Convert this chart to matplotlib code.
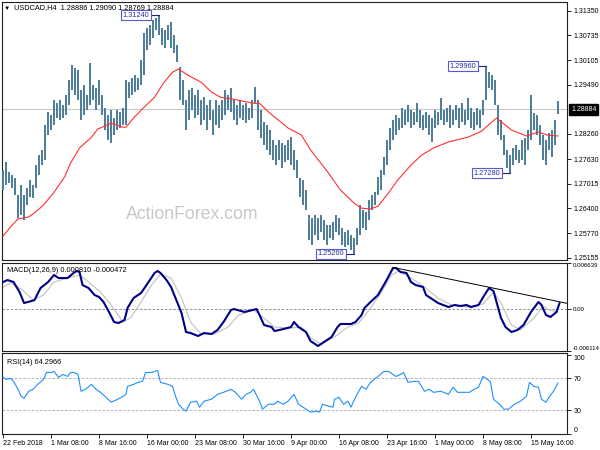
import numpy as np
import matplotlib
matplotlib.use('Agg')
import matplotlib.pyplot as plt
from matplotlib.transforms import blended_transform_factory as btf

# ---------------- data ----------------
symbol = 'USDCAD,H4'
ohlc_last = [1.28886, 1.29090, 1.28769, 1.28884]

# bar highs / lows (one bar per 2 H4 periods)
high = [1.2735, 1.2755, 1.2730, 1.2723, 1.2715, 1.2673, 1.2698, 1.2673, 1.2690, 1.2710,
        1.2698, 1.2748, 1.2773, 1.2786, 1.2848, 1.2881, 1.2873, 1.2911, 1.2903, 1.2911,
        1.2898, 1.2924, 1.2961, 1.2999, 1.2991, 1.2986, 1.2936, 1.2949, 1.2924, 1.3004,
        1.2949, 1.2941, 1.2961, 1.2924, 1.2891, 1.2873, 1.2886, 1.2866, 1.2886, 1.2881,
        1.2891, 1.2961, 1.2956, 1.2966, 1.2974, 1.2966, 1.3011, 1.3079, 1.3092, 1.3099,
        1.3111, 1.3116, 1.3124, 1.3092, 1.3087, 1.3099, 1.3107, 1.3074, 1.3049, 1.2994,
        1.2961, 1.2911, 1.2936, 1.2941, 1.2924, 1.2936, 1.2911, 1.2918, 1.2898, 1.2911,
        1.2886, 1.2911, 1.2898, 1.2911, 1.2936, 1.2924, 1.2941, 1.2911, 1.2898, 1.2911,
        1.2898, 1.2903, 1.2891, 1.2911, 1.2943, 1.2911, 1.2886, 1.2856, 1.2848, 1.2836,
        1.2811, 1.2798, 1.2811, 1.2803, 1.2798, 1.2811, 1.2818, 1.2786, 1.2760, 1.2715,
        1.2710, 1.2685, 1.2623, 1.2615, 1.2623, 1.2615, 1.2623, 1.2610, 1.2598, 1.2598,
        1.2605, 1.2623, 1.2615, 1.2590, 1.2580, 1.2585, 1.2572, 1.2565, 1.2590, 1.2648,
        1.2635, 1.2630, 1.2660, 1.2673, 1.2680, 1.2718, 1.2735, 1.2768, 1.2811, 1.2841,
        1.2861, 1.2873, 1.2866, 1.2891, 1.2886, 1.2898, 1.2886, 1.2881, 1.2903, 1.2886,
        1.2873, 1.2881, 1.2873, 1.2866, 1.2886, 1.2881, 1.2916, 1.2886, 1.2891, 1.2898,
        1.2886, 1.2898, 1.2891, 1.2903, 1.2886, 1.2916, 1.2891, 1.2881, 1.2891, 1.2886,
        1.2911, 1.2996, 1.2981, 1.2974, 1.2961, 1.2898, 1.2861, 1.2823, 1.2786, 1.2773,
        1.2791, 1.2798, 1.2786, 1.2811, 1.2816, 1.2836, 1.2924, 1.2878, 1.2873, 1.2848,
        1.2823, 1.2811, 1.2828, 1.2836, 1.2861, 1.2909]
low = [1.2685, 1.2698, 1.2703, 1.2690, 1.2673, 1.2615, 1.2623, 1.2610, 1.2648, 1.2668,
       1.2665, 1.2690, 1.2723, 1.2748, 1.2760, 1.2823, 1.2836, 1.2848, 1.2866, 1.2861,
       1.2866, 1.2873, 1.2898, 1.2936, 1.2924, 1.2911, 1.2861, 1.2873, 1.2886, 1.2898,
       1.2911, 1.2886, 1.2898, 1.2873, 1.2836, 1.2811, 1.2803, 1.2823, 1.2836, 1.2841,
       1.2848, 1.2848, 1.2916, 1.2924, 1.2931, 1.2936, 1.2949, 1.2974, 1.3036, 1.3049,
       1.3067, 1.3087, 1.3074, 1.3049, 1.3042, 1.3061, 1.3042, 1.3029, 1.3006, 1.2911,
       1.2898, 1.2836, 1.2861, 1.2886, 1.2866, 1.2873, 1.2848, 1.2861, 1.2836, 1.2861,
       1.2823, 1.2848, 1.2841, 1.2861, 1.2873, 1.2886, 1.2881, 1.2861, 1.2848, 1.2866,
       1.2861, 1.2853, 1.2861, 1.2866, 1.2903, 1.2836, 1.2816, 1.2798, 1.2786, 1.2773,
       1.2760, 1.2748, 1.2760, 1.2740, 1.2755, 1.2760, 1.2748, 1.2735, 1.2715, 1.2668,
       1.2648, 1.2635, 1.2560, 1.2547, 1.2572, 1.2560, 1.2580, 1.2560, 1.2547, 1.2565,
       1.2560, 1.2580, 1.2572, 1.2547, 1.2542, 1.2547, 1.2535, 1.2526, 1.2547, 1.2572,
       1.2590, 1.2585, 1.2610, 1.2635, 1.2648, 1.2673, 1.2685, 1.2723, 1.2748, 1.2786,
       1.2811, 1.2823, 1.2836, 1.2841, 1.2848, 1.2856, 1.2841, 1.2848, 1.2856, 1.2841,
       1.2836, 1.2841, 1.2823, 1.2806, 1.2841, 1.2848, 1.2861, 1.2848, 1.2856, 1.2841,
       1.2848, 1.2861, 1.2841, 1.2856, 1.2848, 1.2861, 1.2841, 1.2836, 1.2848, 1.2841,
       1.2873, 1.2911, 1.2941, 1.2936, 1.2898, 1.2823, 1.2811, 1.2773, 1.2740, 1.2728,
       1.2748, 1.2760, 1.2753, 1.2760, 1.2748, 1.2786, 1.2811, 1.2836, 1.2823, 1.2798,
       1.2760, 1.2748, 1.2786, 1.2768, 1.2798, 1.2877]

# moving average (bar index, value)
ma_bar = [0, 5, 10, 17, 21, 27, 34, 41, 45, 51, 59, 63, 72, 80, 82, 87, 94, 101, 107, 113,
          117, 123, 132, 139, 145, 154, 167, 171, 177, 190, 199, 205, 217, 225, 234, 239, 245,
          250, 257, 263, 272, 279, 287, 297, 310, 319, 329, 339, 349, 357, 363, 370]
ma_val = [1.2570, 1.2593, 1.2613, 1.2618, 1.2628, 1.2648, 1.2680, 1.2718, 1.2753, 1.2791,
          1.2818, 1.2838, 1.2853, 1.2843, 1.2843, 1.2866, 1.2893, 1.2918, 1.2954, 1.2981,
          1.2989, 1.2974, 1.2956, 1.2931, 1.2918, 1.2913, 1.2903, 1.2903, 1.2881, 1.2841,
          1.2823, 1.2786, 1.2728, 1.2685, 1.2653, 1.2640, 1.2638, 1.2645, 1.2678, 1.2710,
          1.2748, 1.2773, 1.2791, 1.2806, 1.2818, 1.2833, 1.2866, 1.2836, 1.2821, 1.2831,
          1.2823, 1.2821]

# marked highs / lows
ann_bar = [104, 234, 322, 338]
ann_val = [1.31240, 1.25260, 1.29960, 1.27280]

price_ticks = [1.31350, 1.30735, 1.30105, 1.29490, 1.28260, 1.27630,
               1.27015, 1.26400, 1.25770, 1.25155]

# MACD (12,26,9)
macd_bar = [0, 3, 7, 11, 14, 19, 21, 25, 30, 34, 37, 43, 47, 49, 51, 53, 57, 61, 64, 67,
            71, 74, 77, 81, 83, 87, 92, 97, 101, 103, 105, 109, 112, 115, 119, 122, 125, 130, 134, 139,
            143, 147, 152, 154, 161, 169, 171, 174, 179, 181, 187, 192, 194, 197, 202, 205, 210, 214, 219, 223,
            225, 232, 235, 239, 241, 245, 250, 255, 260, 262, 265, 269, 272, 275, 280, 282, 287, 290, 297, 301,
            305, 309, 312, 317, 321, 324, 327, 329, 332, 335, 339, 343, 347, 352, 357, 359, 362, 365, 369, 371]
macd = [0.00388, 0.00417, 0.00388, 0.00243, 0.00084, 0.00113, 0.00128, 0.00301, 0.00388, 0.00490,
        0.00446, 0.00446, 0.00519, 0.00548, 0.00533, 0.00345, 0.00301, 0.00200, 0.00171, 0.00099,
        -0.00061, -0.00191, -0.00206, -0.00162, 0.00012, 0.00156, 0.00229, 0.00388, 0.00519, 0.00548,
        0.00519, 0.00417, 0.00316, 0.00156, -0.00061, -0.00336, -0.00351, -0.00394, -0.00351, -0.00365,
        -0.00307, -0.00191, -0.00017, -0.00003, -0.00046, -0.00003, -0.00090, -0.00235, -0.00264, -0.00322,
        -0.00293, -0.00264, -0.00191, -0.00264, -0.00336, -0.00467, -0.00539, -0.00481, -0.00409, -0.00264,
        -0.00220, -0.00220, -0.00191, -0.00090, 0.00012, 0.00099, 0.00200, 0.00388, 0.00591, 0.00591,
        0.00533, 0.00519, 0.00388, 0.00345, 0.00316, 0.00200, 0.00128, 0.00084, 0.00026, 0.00055,
        0.00041, 0.00055, 0.00026, 0.00055, 0.00200, 0.00301, 0.00258, 0.00099, -0.00133, -0.00264,
        -0.00336, -0.00307, -0.00235, -0.00046, 0.00099, 0.00055, -0.00090, -0.00119, -0.00046, 0.000810]
sig_bar = [0, 5, 13, 20, 27, 34, 43, 51, 57, 65, 72, 80, 85, 92, 99, 105, 112, 119, 125, 132,
           141, 150, 157, 167, 174, 181, 192, 199, 205, 212, 221, 230, 237, 243, 252, 259, 264, 272, 281, 290,
           299, 310, 320, 327, 332, 339, 345, 354, 360, 364, 370]
signal = [0.00316, 0.00374, 0.00272, 0.00128, 0.00200, 0.00388, 0.00446, 0.00490, 0.00388, 0.00243,
          0.00055, -0.00191, -0.00133, 0.00099, 0.00345, 0.00504, 0.00446, 0.00156, -0.00191, -0.00365,
          -0.00365, -0.00264, -0.00090, -0.00017, -0.00133, -0.00264, -0.00278, -0.00264, -0.00423, -0.00510,
          -0.00409, -0.00264, -0.00206, -0.00046, 0.00229, 0.00490, 0.00548, 0.00446, 0.00316, 0.00156,
          0.00055, 0.00026, 0.00070, 0.00243, 0.00084, -0.00235, -0.00307, -0.00133, 0.00041, -0.00017,
          -0.000472]
trend_bar = [260, 377]
trend_val = [0.00600, 0.00075]
macd_ticks = [0.006639, 0.0, -0.006114]
macd_tick_labels = ['0.006639', '0.00', '-0.006114']

# RSI(14)
rsi_bar = [0, 2, 5, 7, 10, 12, 14, 17, 20, 23, 27, 29, 32, 34, 37, 40, 43, 45, 47, 50,
           52, 55, 59, 62, 65, 70, 72, 75, 79, 82, 83, 87, 90, 93, 95, 99, 103, 105, 110, 113,
           115, 117, 120, 122, 125, 129, 131, 134, 139, 143, 147, 152, 155, 159, 162, 165, 167, 171, 173, 177,
           181, 183, 187, 190, 194, 197, 199, 202, 205, 209, 211, 213, 217, 220, 221, 224, 227, 230, 232, 235,
           239, 242, 245, 250, 254, 257, 262, 265, 267, 270, 274, 277, 281, 284, 287, 292, 297, 300, 303, 307,
           311, 314, 317, 320, 323, 325, 327, 331, 334, 337, 341, 345, 349, 351, 354, 357, 359, 362, 364, 367, 370]
rsi = [71.3, 68.8, 70.0, 66.3, 56.3, 47.5, 45.0, 53.8, 56.3, 62.5,
       68.8, 77.5, 77.5, 78.8, 71.3, 75.0, 72.5, 77.5, 77.5, 75.0,
       53.8, 56.3, 62.5, 56.3, 52.5, 43.8, 40.0, 42.5, 46.3, 50.0,
       60.0, 62.5, 65.0, 66.3, 77.5, 77.5, 80.0, 65.0, 62.5, 60.0,
       47.5, 37.5, 31.3, 28.8, 40.0, 41.3, 33.8, 41.3, 43.8, 50.0,
       52.5, 56.3, 52.5, 43.8, 50.0, 52.5, 56.3, 41.3, 31.3, 37.5,
       37.5, 41.3, 37.5, 41.3, 50.0, 37.5, 35.0, 31.3, 27.5, 28.8,
       27.5, 37.5, 35.0, 33.8, 43.8, 46.3, 37.5, 41.3, 33.8, 46.3,
       60.0, 56.3, 65.0, 72.5, 78.8, 78.8, 72.5, 75.0, 77.5, 65.0,
       66.3, 66.3, 53.8, 56.3, 52.5, 53.8, 50.0, 58.8, 52.5, 52.5,
       52.5, 56.3, 58.8, 72.5, 68.8, 65.0, 43.8, 37.5, 31.3, 31.3,
       37.5, 41.3, 47.5, 65.0, 60.0, 58.8, 43.8, 40.0, 46.3, 53.8, 64.2966]
rsi_ticks = [100, 70, 30, 0]
rsi_levels = [70, 30]

# time axis (H4 bar index of each label)
date_pos = [0, 32, 64, 96, 128, 160, 192, 224, 256, 288, 320, 352]
date_labels = ['22 Feb 2018', '1 Mar 08:00', '8 Mar 16:00', '16 Mar 00:00', '23 Mar 08:00',
               '30 Mar 16:00', '9 Apr 00:00', '16 Apr 08:00', '23 Apr 16:00', '1 May 00:00',
               '8 May 08:00', '15 May 16:00']

# ---------------- figure ----------------
plt.rcParams['font.family'] = ['Liberation Sans', 'DejaVu Sans']
fig = plt.figure(figsize=(6, 4.5), dpi=100)
W, H = 600.0, 450.0


def rect(l, t, r, b):
    return [l / W, 1 - b / H, (r - l) / W, (b - t) / H]


ax1 = fig.add_axes(rect(2, 2, 567, 260))
ax2 = fig.add_axes(rect(2, 263, 567, 351))
ax3 = fig.add_axes(rect(2, 353, 567, 434))

for ax in (ax1, ax2, ax3):
    ax.set_xlim(-0.7, 376)
    for s in ax.spines.values():
        s.set_color('#202020')
        s.set_linewidth(0.8)
    ax.yaxis.tick_right()
    ax.tick_params(axis='y', direction='out', length=3, width=0.6, pad=1.5,
                   labelsize=5, colors='#000000')
    ax.tick_params(axis='x', bottom=False, labelbottom=False)

# main price panel
n = min(len(high), len(low))
bar_x = 2 * np.arange(n)
ax1.vlines(bar_x, low[:n], high[:n], color='#4c7c99', lw=1.4, zorder=3)
ax1.plot(ma_bar, ma_val, color='#ff3030', lw=0.8, zorder=4)
ax1.axhline(ohlc_last[3], color='#c8c8c8', lw=0.8, zorder=1)
ax1.set_ylim(1.2510, 1.3157)
ax1.set_yticks(price_ticks)
ax1.set_yticklabels([f'{v:.5f}' for v in price_ticks])
ax1.text(1.0 + 4 / 565, ohlc_last[3], f'{ohlc_last[3]:.5f}',
         transform=btf(ax1.transAxes, ax1.transData), ha='left', va='center',
         fontsize=5, color='white', clip_on=False,
         bbox=dict(boxstyle='square,pad=0.3', fc='black', ec='black'))
ax1.text(0.336, 0.178, 'ActionForex.com', transform=ax1.transAxes, ha='center',
         va='center', fontsize=12.7, color='#c8c8c8', zorder=0)

for b, v in zip(ann_bar, ann_val):
    ax1.plot([b - 8, b], [v, v], color='#202080', lw=0.8, zorder=5)
    ax1.text(b - 6.5, v, f'{v:.5f}', ha='right', va='center', fontsize=5.3,
             color='#2a2aa0', zorder=6,
             bbox=dict(boxstyle='square,pad=0.2', fc='white', ec='#5a5ad0', lw=0.8))

fig.text(4 / W, 1 - 8 / H, '\u25bc', fontsize=4.5, va='center', ha='left')
fig.text(14 / W, 1 - 8 / H, f'{symbol}  ' + ' '.join(f'{v:.5f}' for v in ohlc_last),
         fontsize=5.3, va='center', ha='left')

# MACD panel
ax2.axhline(0, color='#808080', lw=0.6, ls=(0, (3, 2)), zorder=1)
ax2.plot(sig_bar, signal, color='#c0c0c0', lw=0.8, zorder=2)
ax2.plot(macd_bar, macd, color='#00008b', lw=1.5, zorder=3)
ax2.plot(trend_bar, trend_val, color='#000000', lw=0.7, zorder=4)
ax2.set_ylim(macd_ticks[2], macd_ticks[0])
ax2.set_yticks(macd_ticks)
ax2.set_yticklabels(macd_tick_labels)
ax2.tick_params(axis='y', labelsize=4.4, pad=1)
tl = ax2.get_yticklabels()
tl[0].set_va('top')
tl[2].set_va('bottom')
ax2.text(5 / 565, 0.95, f'MACD(12,26,9) {macd[-1]:.6f} {signal[-1]:.6f}',
         transform=ax2.transAxes, fontsize=5.3, va='top', ha='left')

# RSI panel
for lv in rsi_levels:
    ax3.axhline(lv, color='#a8a8a8', lw=0.6, ls=(0, (3, 2)), zorder=1)
ax3.plot(rsi_bar, rsi, color='#1e90ff', lw=0.8, zorder=3)
ax3.set_ylim(0, 102)
ax3.set_yticks(rsi_ticks)
ax3.set_yticklabels([str(v) for v in rsi_ticks])
tl = ax3.get_yticklabels()
tl[0].set_va('top')
tl[3].set_va('bottom')
ax3.text(5 / 565, 0.93, f'RSI(14) {rsi[-1]:.4f}', transform=ax3.transAxes,
         fontsize=5.3, va='top', ha='left')

ax3.tick_params(axis='x', bottom=True, labelbottom=True, direction='out', length=3,
                width=0.6, pad=1.5, labelsize=5)
ax3.set_xticks(date_pos)
ax3.set_xticklabels(date_labels)
for lbl in ax3.get_xticklabels():
    lbl.set_ha('left')

fig.savefig('out.png', dpi=100, facecolor='white')
